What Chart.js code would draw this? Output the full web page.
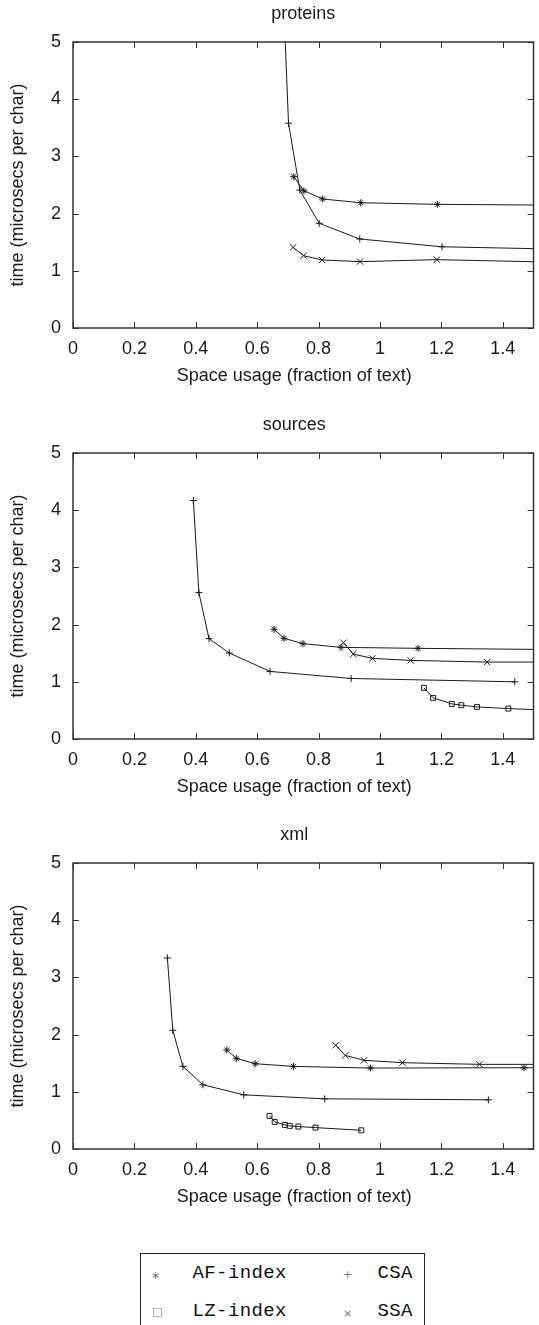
<!DOCTYPE html>
<html>
<head>
<meta charset="utf-8">
<script src="https://cdn.jsdelivr.net/npm/chart.js@4.4.1/dist/chart.umd.min.js"></script>
<style>
  body { margin: 0; width: 539px; height: 1325px; overflow: hidden; background: #fff; position: relative; }
  canvas { position: absolute; left: 0; }
  #legend { position: absolute; left: 140px; top: 1253px; width: 285px; height: 90px; border: 1.5px solid #222; border-bottom: none; box-sizing: border-box; font-family: "Liberation Mono", monospace; font-size: 19px; color: #111; }
  .item { position: absolute; letter-spacing: 0.4px; line-height: 20px; white-space: nowrap; }
  .sym { position: absolute; color: #777; font-family: "DejaVu Sans", sans-serif; font-size: 11px; line-height: 12px; transform: translate(-50%, -50%); }
</style>
</head>
<body>
<canvas id="proteins" width="539" height="410" style="top:0px"></canvas>
<canvas id="sources" width="539" height="410" style="top:411px"></canvas>
<canvas id="xml" width="539" height="410" style="top:821px"></canvas>
<div id="legend">
  <span class="sym" style="left:14.5px;top:21.5px">∗</span>
  <span class="item" style="left:51.5px;top:8.5px">AF-index</span>
  <span class="sym" style="left:206.5px;top:20.5px">+</span>
  <span class="item" style="left:236.5px;top:8.5px">CSA</span>
  <span class="sym" style="left:16.5px;top:57.5px">□</span>
  <span class="item" style="left:51.5px;top:46.5px">LZ-index</span>
  <span class="sym" style="left:206.5px;top:59.5px">×</span>
  <span class="item" style="left:236.5px;top:46.5px">SSA</span>
</div>
<script>
const xTicks = [0, 0.2, 0.4, 0.6, 0.8, 1, 1.2, 1.4];
const xTickLabels = ['0', '0.2', '0.4', '0.6', '0.8', '1', '1.2', '1.4'];
const yTicks = [0, 1, 2, 3, 4, 5];
const yTickLabels = ['0', '1', '2', '3', '4', '5'];

// proteins
const proteinsAfX = [0.719, 0.752, 0.813, 0.937, 1.187, 1.75];
const proteinsAfY = [2.646, 2.40, 2.255, 2.19, 2.162, 2.14];
const proteinsCsaX = [0.68, 0.702, 0.739, 0.802, 0.934, 1.202, 1.75];
const proteinsCsaY = [6.5, 3.58, 2.41, 1.83, 1.556, 1.42, 1.36];
const proteinsSsaX = [0.717, 0.751, 0.811, 0.935, 1.185, 1.75];
const proteinsSsaY = [1.41, 1.265, 1.19, 1.16, 1.195, 1.13];

// sources
const sourcesAfX = [0.655, 0.687, 0.749, 0.873, 1.124, 1.75];
const sourcesAfY = [1.918, 1.76, 1.667, 1.602, 1.585, 1.555];
const sourcesCsaX = [0.392, 0.410, 0.443, 0.509, 0.642, 0.906, 1.439];
const sourcesCsaY = [4.17, 2.56, 1.754, 1.503, 1.181, 1.058, 1.0];
const sourcesLzX = [1.143, 1.173, 1.234, 1.265, 1.316, 1.418, 1.75];
const sourcesLzY = [0.895, 0.719, 0.614, 0.591, 0.561, 0.532, 0.46];
const sourcesSsaX = [0.881, 0.913, 0.975, 1.100, 1.349, 1.75];
const sourcesSsaY = [1.684, 1.485, 1.409, 1.374, 1.345, 1.345];

// xml
const xmlAfX = [0.501, 0.532, 0.5935, 0.718, 0.969, 1.469, 1.75];
const xmlAfY = [1.731, 1.585, 1.491, 1.444, 1.415, 1.421, 1.41];
const xmlCsaX = [0.3075, 0.325, 0.358, 0.423, 0.556, 0.820, 1.353];
const xmlCsaY = [3.339, 2.076, 1.444, 1.123, 0.947, 0.877, 0.860];
const xmlLzX = [0.640, 0.657, 0.690, 0.706, 0.734, 0.790, 0.939];
const xmlLzY = [0.579, 0.474, 0.421, 0.404, 0.392, 0.374, 0.327];
const xmlSsaX = [0.856, 0.887, 0.948, 1.073, 1.324, 1.75];
const xmlSsaY = [1.813, 1.637, 1.550, 1.509, 1.480, 1.48];

const ink = '#1a1a1a';
const textFont = { family: '"Liberation Sans", Arial, sans-serif', size: 18 };
const markerSize = { star: 3.5, cross: 3.5, crossRot: 4.5, rect: 3.5 };

function pts(xs, ys) {
  return xs.map((x, i) => ({ x: x, y: ys[i] }));
}

function series(label, xs, ys, style) {
  return {
    label: label,
    data: pts(xs, ys),
    showLine: true,
    borderColor: ink,
    borderWidth: 1,
    backgroundColor: 'transparent',
    pointStyle: style,
    pointRadius: markerSize[style],
    pointBorderColor: ink,
    pointBorderWidth: 1,
    tension: 0
  };
}

// inward ticks on all four sides plus the box round the plot
const framePlugin = {
  id: 'frame',
  afterDatasetsDraw(chart) {
    const { ctx, chartArea: a, scales } = chart;
    ctx.save();
    ctx.strokeStyle = '#333';
    ctx.lineWidth = 1;
    scales.x.ticks.forEach(t => {
      const px = Math.round(scales.x.getPixelForValue(t.value)) + 0.5;
      ctx.beginPath();
      ctx.moveTo(px, a.bottom); ctx.lineTo(px, a.bottom - 6);
      ctx.moveTo(px, a.top); ctx.lineTo(px, a.top + 6);
      ctx.stroke();
    });
    scales.y.ticks.forEach(t => {
      const py = Math.round(scales.y.getPixelForValue(t.value)) + 0.5;
      ctx.beginPath();
      ctx.moveTo(a.left, py); ctx.lineTo(a.left + 6, py);
      ctx.moveTo(a.right, py); ctx.lineTo(a.right - 6, py);
      ctx.stroke();
    });
    ctx.lineWidth = 1.5;
    ctx.strokeRect(a.left, a.top, a.right - a.left, a.bottom - a.top);
    ctx.restore();
  }
};

function makeChart(id, title, datasets, xTitle) {
  new Chart(document.getElementById(id), {
    type: 'scatter',
    data: { datasets: datasets },
    plugins: [framePlugin],
    options: {
      responsive: false,
      animation: false,
      layout: { padding: { left: 0, right: 2, top: 0, bottom: 0 } },
      plugins: {
        legend: { display: false },
        tooltip: { enabled: false },
        title: {
          display: true,
          text: title,
          fullSize: false,
          color: ink,
          font: Object.assign({ weight: 'normal' }, textFont),
          padding: { top: 3, bottom: 17.4 }
        }
      },
      scales: {
        x: {
          type: 'linear',
          min: 0,
          max: 1.5,
          afterFit(scale) { scale.height = 82; },
          afterBuildTicks(scale) { scale.ticks = xTicks.map(v => ({ value: v })); },
          grid: { display: false, drawTicks: false },
          border: { display: false },
          ticks: {
            color: ink,
            font: textFont,
            padding: 10,
            maxRotation: 0,
            autoSkip: false,
            callback: (v, i) => xTickLabels[i]
          },
          title: {
            display: true,
            text: xTitle,
            color: ink,
            font: textFont,
            padding: { top: 0, bottom: 23.2 }
          }
        },
        y: {
          type: 'linear',
          min: 0,
          max: 5,
          afterFit(scale) { scale.width = 73; },
          afterBuildTicks(scale) { scale.ticks = yTicks.map(v => ({ value: v })); },
          grid: { display: false, drawTicks: false },
          border: { display: false },
          ticks: {
            color: ink,
            font: textFont,
            padding: 12,
            autoSkip: false,
            callback: (v, i) => yTickLabels[i]
          },
          title: {
            display: true,
            text: 'time (microsecs per char)',
            color: ink,
            font: textFont,
            padding: { top: 7, bottom: 0 }
          }
        }
      }
    }
  });
}

const xLabel = 'Space usage (fraction of text)\u2003';

makeChart('proteins', 'proteins', [
  series('AF-index', proteinsAfX, proteinsAfY, 'star'),
  series('CSA', proteinsCsaX, proteinsCsaY, 'cross'),
  series('SSA', proteinsSsaX, proteinsSsaY, 'crossRot')
], xLabel);

makeChart('sources', 'sources\u2003', [
  series('AF-index', sourcesAfX, sourcesAfY, 'star'),
  series('CSA', sourcesCsaX, sourcesCsaY, 'cross'),
  series('LZ-index', sourcesLzX, sourcesLzY, 'rect'),
  series('SSA', sourcesSsaX, sourcesSsaY, 'crossRot')
], xLabel);

makeChart('xml', 'xml\u2003', [
  series('AF-index', xmlAfX, xmlAfY, 'star'),
  series('CSA', xmlCsaX, xmlCsaY, 'cross'),
  series('LZ-index', xmlLzX, xmlLzY, 'rect'),
  series('SSA', xmlSsaX, xmlSsaY, 'crossRot')
], xLabel);
</script>
</body>
</html>
